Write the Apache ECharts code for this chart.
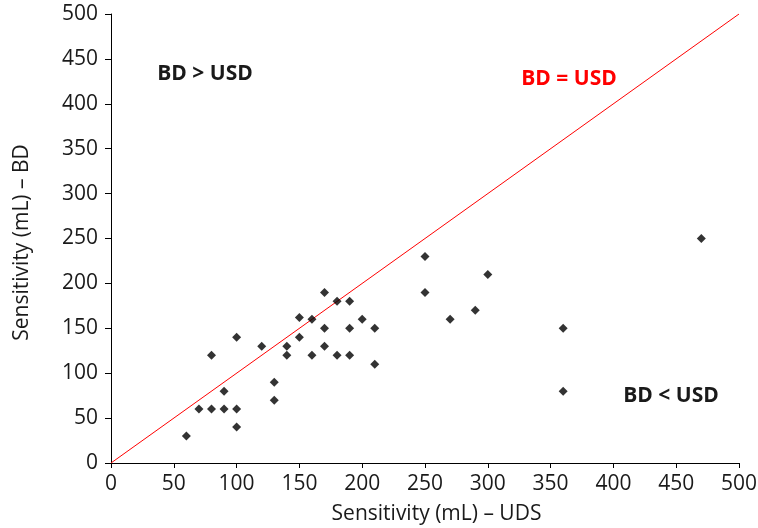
<!DOCTYPE html>
<html>
<head>
<meta charset="utf-8">
<script src="https://cdn.jsdelivr.net/npm/echarts@6/dist/echarts.min.js"></script>
<style>html,body{margin:0;padding:0;background:#fff}#c{width:758px;height:528px}</style>
</head>
<body>
<div id="c"></div>
<script>
const udsValues = [60, 70, 80, 90, 100, 100, 90, 80, 100, 120, 130, 130, 140, 140, 150, 150, 160, 160, 170, 170, 170, 180, 180, 190, 190, 190, 200, 210, 210, 250, 250, 270, 290, 300, 360, 360, 470];
const bdValues  = [30, 60, 60, 60, 60, 40, 80, 120, 140, 130, 90, 70, 130, 120, 140, 162, 160, 120, 190, 150, 130, 180, 120, 180, 150, 120, 160, 150, 110, 230, 190, 160, 170, 210, 150, 80, 250];
const identityLine = [[0, 0], [500, 500]];
const xTicks = [0, 50, 100, 150, 200, 250, 300, 350, 400, 450, 500];
const yTicks = [0, 50, 100, 150, 200, 250, 300, 350, 400, 450, 500];

const points = udsValues.map((x, i) => [x, bdValues[i]]);
const FONT = 'Open Sans';

const chart = echarts.init(document.getElementById('c'), null, {renderer: 'canvas'});
chart.setOption({
  animation: false,
  backgroundColor: '#fff',
  grid: {left: 111, right: 19, top: 14, bottom: 65, containLabel: false, outerBoundsMode: 'none'},
  xAxis: {
    type: 'value', min: xTicks[0], max: xTicks[xTicks.length - 1], interval: 50,
    name: 'Sensitivity (mL) – UDS', nameLocation: 'middle', nameGap: 41,
    nameTextStyle: {fontFamily: FONT, fontSize: 21, color: '#1a1a1a', padding: [0, 0, 0, 23]},
    axisLine: {lineStyle: {color: '#000', width: 1}},
    axisTick: {show: true, inside: false, length: 5, lineStyle: {color: '#000'}},
    axisLabel: {margin: 11, fontFamily: FONT, fontSize: 21, color: '#1a1a1a'},
    splitLine: {show: false}
  },
  yAxis: {
    type: 'value', min: yTicks[0], max: yTicks[yTicks.length - 1], interval: 50,
    name: 'Sensitivity (mL) – BD', nameLocation: 'middle', nameGap: 78, nameRotate: 90,
    nameTextStyle: {fontFamily: FONT, fontSize: 21, color: '#1a1a1a', padding: [0, 8, 0, 0]},
    axisLine: {show: true, lineStyle: {color: '#000', width: 1}},
    axisTick: {show: true, inside: false, length: 6, lineStyle: {color: '#000'}},
    axisLabel: {margin: 13, fontFamily: FONT, fontSize: 21, color: '#1a1a1a'},
    splitLine: {show: false}
  },
  series: [
    {
      type: 'line', data: identityLine, symbol: 'none', silent: true,
      lineStyle: {color: '#ff0000', width: 1}, z: 1
    },
    {
      type: 'scatter', data: points, symbol: 'diamond', symbolSize: 9,
      itemStyle: {color: '#000'}, z: 2
    }
  ],
  graphic: [
    {type: 'text', x: 205, y: 74, style: {text: 'BD > USD', fontFamily: FONT, fontSize: 21, fontWeight: 'bold', fill: '#1a1a1a', align: 'center', verticalAlign: 'middle'}},
    {type: 'text', x: 569, y: 79, style: {text: 'BD = USD', fontFamily: FONT, fontSize: 21, fontWeight: 'bold', fill: '#ff0000', align: 'center', verticalAlign: 'middle'}},
    {type: 'text', x: 671, y: 396, style: {text: 'BD < USD', fontFamily: FONT, fontSize: 21, fontWeight: 'bold', fill: '#1a1a1a', align: 'center', verticalAlign: 'middle'}}
  ]
});
</script>
</body>
</html>
